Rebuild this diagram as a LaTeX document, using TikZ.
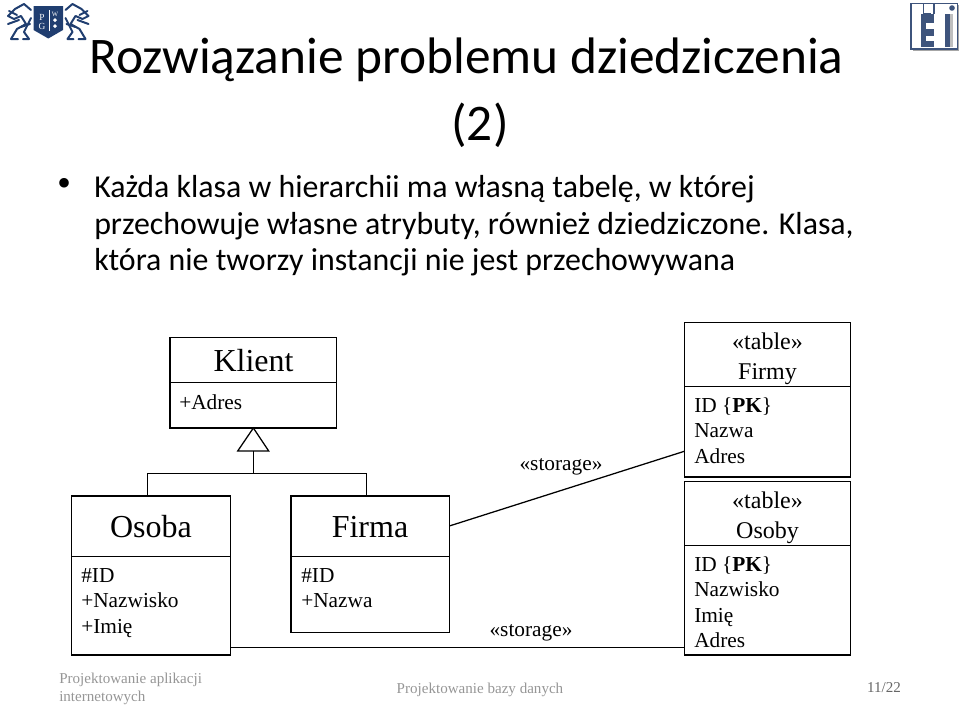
\documentclass[tikz,border=0pt]{standalone}
\usepackage{fontspec}
\setmainfont{Liberation Serif}
\newfontfamily\slidefont{Carlito}
\usepackage{tikz}

\definecolor{logoblue}{RGB}{32,62,112}
\definecolor{etiblue}{RGB}{62,84,124}
\definecolor{footgray}{RGB}{150,150,150}

\tikzset{
    boxpart/.style 2 args={draw,anchor=north west,inner sep=0pt,outer sep=0pt,line width=0.95pt,minimum width=#1*0.75pt,minimum height=#2*0.75pt},
    titletext/.style={anchor=center,inner sep=0.75pt,font=\slidefont\fontsize{38.5}{48.7}\selectfont},
    classname/.style={anchor=center,inner sep=0.75pt,font=\fontsize{24}{28}\selectfont},
    tablename/.style={anchor=center,inner sep=0.75pt,align=center,font=\fontsize{18}{22.5}\selectfont},
    attrtext/.style={anchor=north west,inner sep=0.75pt,align=left,font=\fontsize{16}{19.2}\selectfont},
    storagetext/.style={anchor=center,inner sep=0.75pt,font=\fontsize{16}{19.2}\selectfont},
    slidetext/.style={anchor=north west,inner sep=0.75pt,align=left,font=\slidefont\fontsize{23.9}{27.4}\selectfont},
    foottext/.style={inner sep=0.75pt,text=footgray,font=\fontsize{11.3}{13.5}\selectfont},
    griffin/.style={draw=logoblue,line width=1.5pt,line cap=round,line join=round},
    conn/.style={line width=0.95pt}
}

\begin{document}
\begin{tikzpicture}[x=0.75pt,y=0.75pt,yscale=-1,xscale=1]
    \useasboundingbox (0,0) rectangle (960,707);

    % Text Node
    \node (title) [titletext] at (466.5,60) {Rozwiązanie problemu dziedziczenia};
    % Text Node
    \node (titleTwo) [titletext] at (480,125) {(2)};
    % Text Node
    \node (bullet) [inner sep=0pt,font=\fontsize{30}{30}\selectfont] at (65,187) {\textbullet};
    % Text Node
    \node (body) [slidetext] at (93,174.5) {Każda klasa w hierarchii ma własną tabelę, w której\\przechowuje własne atrybuty, również dziedziczone. Klasa,\\która nie tworzy instancji nie jest przechowywana};

    %Class Klient
    \node (klientHead) [boxpart={166.7}{45}] at (170,337.5) {};
    \node (klientBody) [boxpart={166.7}{45.5}] at (170,382.5) {};
    \node (klientName) [classname] at (253.5,361) {Klient};
    \node (klientAttr) [attrtext] at (178,393) {+Adres};

    %Class Osoba
    \node (osobaHead) [boxpart={158.6}{60.7}] at (71.7,496) {};
    \node (osobaBody) [boxpart={158.6}{98.3}] at (71.7,556.7) {};
    \node (osobaName) [classname] at (151,527) {Osoba};
    \node (osobaAttr) [attrtext] at (80,567) {\#ID\\+Nazwisko\\+Imię};

    %Class Firma
    \node (firmaHead) [boxpart={158.3}{60.7}] at (291,496) {};
    \node (firmaBody) [boxpart={158.3}{75.6}] at (291,556.7) {};
    \node (firmaName) [classname] at (370,527) {Firma};
    \node (firmaAttr) [attrtext] at (300,567) {\#ID\\+Nazwa};

    %Table Firmy
    \node (firmyHead) [boxpart={166.4}{64}] at (684.3,322.3) {};
    \node (firmyBody) [boxpart={166.4}{90.7}] at (684.3,386.3) {};
    \node (firmyName) [tablename] at (767.5,359) {«table»\\Firmy};
    \node (firmyAttr) [attrtext] at (693,396) {ID \{\textbf{PK}\}\\Nazwa\\Adres};

    %Table Osoby
    \node (osobyHead) [boxpart={166.4}{64}] at (684.3,481.3) {};
    \node (osobyBody) [boxpart={166.4}{109.7}] at (684.3,545.3) {};
    \node (osobyName) [tablename] at (767.5,518) {«table»\\Osoby};
    \node (osobyAttr) [attrtext] at (693,555) {ID \{\textbf{PK}\}\\Nazwisko\\Imię\\Adres};

    %Shape: Triangle
    \coordinate (triTop) at (klientBody.south);
    \coordinate (triLeft) at (237.7,451);
    \coordinate (triRight) at (268.7,451);
    \coordinate (triBase) at (253.3,451);
    \draw [conn,line join=miter] (triTop) -- (triRight) -- (triLeft) -- cycle ;
    %Straight Lines
    \coordinate (forkMid) at (253.3,473.5);
    \coordinate (forkLeft) at (147.3,473.5);
    \coordinate (forkRight) at (366.7,473.5);
    \coordinate (osobaTop) at (147.3,496);
    \coordinate (firmaTop) at (366.7,496);
    \draw [conn] (triBase) -- (forkMid) ;
    \draw [conn] (osobaTop) -- (forkLeft) -- (forkRight) -- (firmaTop) ;

    %Straight Lines
    \coordinate (firmaOut) at (449.3,526);
    \coordinate (firmyIn) at (684.3,451.3);
    \coordinate (osobaOut) at (230.3,647.7);
    \coordinate (osobyIn) at (684.3,647.7);
    \draw [conn] (firmaOut) -- (firmyIn) ;
    \draw [conn] (osobaOut) -- (osobyIn) ;

    % Text Node
    \node (storageFirmy) [storagetext] at (561,466.5) {«storage»};
    % Text Node
    \node (storageOsoby) [storagetext] at (531,632.5) {«storage»};

    % Text Node
    \node (footLeft) [foottext,anchor=north west,align=left] at (58,672) {Projektowanie aplikacji\\internetowych};
    % Text Node
    \node (footMid) [foottext] at (480,690) {Projektowanie bazy danych};
    % Text Node
    \node (footRight) [foottext,text=black!60] at (884,688) {11/22};

    %Logo PG: griffins
    \foreach \mx/\sx in {0/1,96.5/-1} {
        \begin{scope}[shift={(\mx,0)},xscale=\sx]
            \draw [griffin] (31,10) -- (24,4) -- (15,9) -- (8,16) -- (14,19) -- (21,16) -- (26,24) -- (17,29) -- (11,39) -- (18,39) ;
            \draw [griffin] (8,24) -- (19,20) ;
            \draw [griffin] (9,11) -- (17,15) ;
            \draw [griffin] (31,18) -- (24,32) -- (29,39) -- (23,39) ;
            \draw [griffin] (30,24) -- (21,27) ;
        \end{scope}
    }
    %Logo PG: shield
    \fill [logoblue] (33.5,6) -- (63,6) -- (63,30) -- (48.3,38.5) -- (33.5,30) -- cycle ;
    \draw [white,line width=0.6pt] (49,10) -- (49,31) ;
    \node (shieldP) [text=white,inner sep=0pt,font=\fontsize{7}{7}\selectfont] at (42,17) {P};
    \node (shieldG) [text=white,inner sep=0pt,font=\fontsize{7}{7}\selectfont] at (42,26.5) {G};
    \node (shieldW) [text=white,inner sep=0pt,font=\fontsize{5}{5}\selectfont] at (55,14) {W};
    \foreach \sy in {20,26} {
        \fill [white] (55,\sy-2) -- (57,\sy) -- (55,\sy+2) -- (53,\sy) -- cycle ;
    }

    %Logo ETI
    \fill [black!35] (912.5,5) rectangle (959,50.5);
    \fill [white] (911,3) rectangle (957.5,49);
    \draw [etiblue,line width=1.3pt] (911,3.5) rectangle (957.5,49);
    \fill [etiblue] (921,14) rectangle (934,47);
    \fill [white] (926,23) rectangle (934,29);
    \fill [white] (926,36) rectangle (934,41);
    \draw [etiblue,line width=1pt] (923.5,3.5) -- (923.5,14) -- (931,14);
    \draw [etiblue,line width=1pt] (934,14) -- (934,3.5);
    \fill [etiblue] (945,14) rectangle (950,47);
    \fill [black!25] (950,14) rectangle (953,47);
    \fill [etiblue] (952,8) circle [radius=2.8];
\end{tikzpicture}
\end{document}
